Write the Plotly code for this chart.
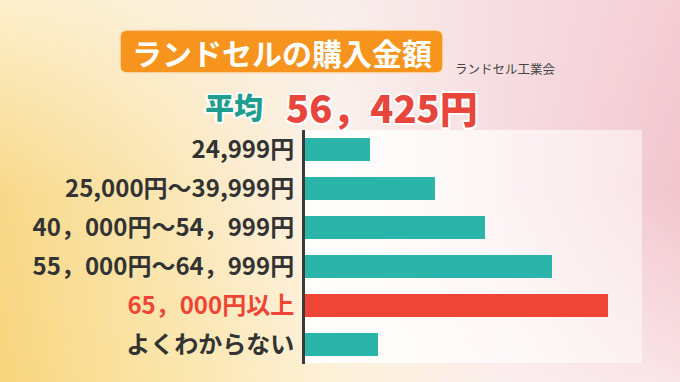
import numpy as np
import plotly.graph_objects as go

# ---- data ----
categories = ["24,999円", "25,000円～39,999円", "40，000円～54，999円",
              "55，000円～64，999円", "65，000円以上", "よくわからない"]
values = [6.5, 13.0, 18.0, 24.7, 30.3, 7.3]
highlight = "65，000円以上"
title_text = "ランドセルの購入金額"
source_text = "ランドセル工業会"
avg_label = "平均"
avg_value = "56，425円"

W, H = 680, 382
TEAL = "#2bb4aa"
RED = "#ee4536"

# ---- background gradient (style) ----
def hx(c):
    c = c.lstrip("#")
    return [int(c[i:i + 2], 16) for i in (0, 2, 4)]

grid = np.array([
    [hx(c) for c in ["#fcefca", "#fbf0da", "#f9eeec", "#f6dde1", "#f5cdd5"]],
    [hx(c) for c in ["#f8d98a", "#fbe7b6", "#fcf3ec", "#f6dbe0", "#f2c6cf"]],
    [hx(c) for c in ["#f8d67e", "#fbe5aa", "#fdf2da", "#fbeeee", "#f9e4e6"]],
], dtype=float)
px = 4
nr, nc = int(np.ceil(H / px)), W // px
ry = np.linspace(0, grid.shape[0] - 1, nr)
cx = np.linspace(0, grid.shape[1] - 1, nc)
img = np.zeros((nr, nc, 3))
for i, yy in enumerate(ry):
    y0 = int(min(np.floor(yy), grid.shape[0] - 2)); ty = yy - y0
    row = grid[y0] * (1 - ty) + grid[y0 + 1] * ty
    for j, xx in enumerate(cx):
        x0 = int(min(np.floor(xx), grid.shape[1] - 2)); tx = xx - x0
        img[i, j] = row[x0] * (1 - tx) + row[x0 + 1] * tx
img = np.round(img).astype(int)

# panel (white translucent, fading to the right)
pl, pr, pt, pb = 305, 642, 130, 363
pw = pr - pl
alpha = np.linspace(0.9, 0.5, pw)
panel = [[[255, 255, 255, float(a)] for a in alpha]]

fig = go.Figure()
fig.add_trace(go.Image(z=img.tolist(), x0=px / 2, y0=px / 2, dx=px, dy=px,
                       xaxis="x", yaxis="y", hoverinfo="skip", zsmooth="fast"))
fig.add_trace(go.Image(z=panel, colormodel="rgba", x0=pl + 0.5, y0=(pt + pb) / 2,
                       dx=1, dy=pb - pt, xaxis="x", yaxis="y", hoverinfo="skip"))

bar_colors = [RED if c == highlight else TEAL for c in categories]
fig.add_trace(go.Bar(x=values, y=categories, orientation="h",
                     marker=dict(color=bar_colors, line=dict(width=0)),
                     xaxis="x2", yaxis="y2", hoverinfo="skip"))

ticktext = [f"<span style='color:{RED}'>{c}</span>" if c == highlight else c
            for c in categories]

fig.update_layout(
    width=W, height=H,
    margin=dict(l=0, r=0, t=0, b=0),
    paper_bgcolor="#fbeee0",
    plot_bgcolor="rgba(0,0,0,0)",
    showlegend=False,
    bargap=0.41,
    xaxis=dict(domain=[0, 1], range=[0, W], visible=False, fixedrange=True),
    yaxis=dict(domain=[0, 1], range=[H, 0], visible=False, fixedrange=True),
    xaxis2=dict(domain=[pl / W, pr / W], range=[0, 33.7], visible=False,
                anchor="y2"),
    yaxis2=dict(domain=[1 - 364 / H, 1 - 130 / H], range=[5.5, -0.5],
                anchor="x2", type="category",
                tickmode="array", tickvals=categories, ticktext=ticktext,
                showline=True, linecolor="#3a3a3a", linewidth=3,
                showgrid=False, zeroline=False, ticks="",
                ticklabelstandoff=3,
                tickfont=dict(family="Noto Sans CJK JP", size=24,
                              color="#333333", weight=700)),
)

# title box
x0b, x1b, y0b, y1b, r = 120, 443, 30, 73, 7
path = (f"M {x0b + r} {y0b} L {x1b - r} {y0b} Q {x1b} {y0b} {x1b} {y0b + r} "
        f"L {x1b} {y1b - r} Q {x1b} {y1b} {x1b - r} {y1b} "
        f"L {x0b + r} {y1b} Q {x0b} {y1b} {x0b} {y1b - r} "
        f"L {x0b} {y0b + r} Q {x0b} {y0b} {x0b + r} {y0b} Z")
fig.add_shape(type="path", path=path, xref="x", yref="y",
              fillcolor="#f7941d", line=dict(color="#fbe3c4", width=1.5),
              layer="above")

outline = ("2px 0 0 #fff, -2px 0 0 #fff, 0 2px 0 #fff, 0 -2px 0 #fff, "
           "1.5px 1.5px 0 #fff, -1.5px -1.5px 0 #fff, 1.5px -1.5px 0 #fff, "
           "-1.5px 1.5px 0 #fff")

fig.add_annotation(x=282, y=52, xref="x", yref="y", text=title_text,
                   showarrow=False,
                   font=dict(family="Noto Sans CJK JP", size=30, color="white",
                             weight=700))
fig.add_annotation(x=453, y=68, xref="x", yref="y", text=source_text,
                   showarrow=False, xanchor="left",
                   font=dict(family="Noto Sans CJK JP", size=12.5,
                             color="#444444"))
fig.add_annotation(x=265, y=106, xref="x", yref="y", text=avg_label,
                   showarrow=False, xanchor="right",
                   font=dict(family="Noto Sans CJK JP", size=29, color="#1f9d8f",
                             weight=900, shadow=outline))
fig.add_annotation(x=284, y=106, xref="x", yref="y", text=avg_value,
                   showarrow=False, xanchor="left",
                   font=dict(family="Noto Sans CJK JP", size=38, color="#e8453c",
                             weight=900, shadow=outline))

fig.write_html("out.html", config={"displayModeBar": False},
               post_script="document.body.style.margin='0';")
